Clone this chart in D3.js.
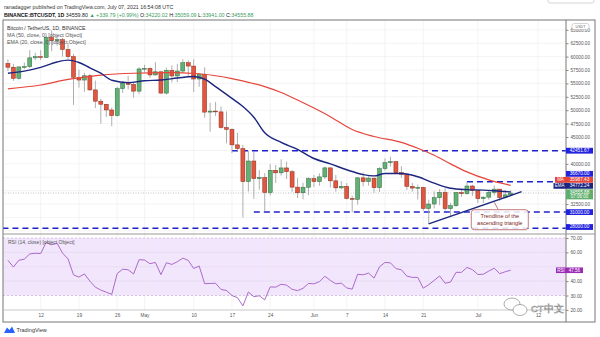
<!DOCTYPE html>
<html><head><meta charset="utf-8">
<script src="https://cdnjs.cloudflare.com/ajax/libs/d3/7.8.5/d3.min.js"></script>
<style>body{margin:0;background:#fff}svg{display:block;font-family:"Liberation Sans",Arial,sans-serif}</style>
</head><body><svg id="c" width="600" height="337"></svg>
<script>
// ---------- DATA ----------
const firstDay = "2021-04-06";
const opens  = [58730,58020,55950,58080,58140,59770,59980,59830,63580,62960,63160,61330,60000,56150,55630,56430,53790,51690,51120,50050,49000,54020,55030,54820,53560,57700,57800,56580,57170,53200,57440,56390,57310,58860,58240,55820,56670,49650,49840,49690,46760,46430,43540,42850,36690,40530,37250,37450,34660,38800,38320,39240,38530,35660,34610,35640,37250,36690,37570,39250,36830,35520,35800,33550,33380,37390,36690,37340,35550,39100,40220,40410,38350,38050,35790,35480,35600,31680,32510,33680,34660,31640,32190,34650,34430,35870,35040,33500,33790,34670,35290,33690,34220];
const highs  = [59490,58650,58150,58900,61220,60700,61200,63770,64850,63800,63520,62570,60500,57530,57000,56750,55520,52130,51170,50500,54360,55460,56430,55200,58000,58450,57950,58980,57200,57940,58360,58650,59500,59300,59500,56870,58000,51370,51570,50700,49800,46640,45800,43550,42450,42200,38830,38270,39920,39790,40840,40410,38860,37340,36490,37500,37900,38230,39480,39290,37920,36790,36400,34070,37530,38400,37690,37440,39390,41000,41330,40530,39560,38200,36460,36140,35750,33300,34880,35300,35500,32730,34750,35300,36600,36100,35040,33940,34950,35950,35290,35120,35059];
const lows   = [57330,55470,55700,57700,57870,59300,59370,59800,61000,62020,60000,59580,51000,54220,53430,53620,50400,47500,48750,47000,48800,53220,53890,52330,53010,57050,56040,56480,53000,52900,55200,55240,56980,56240,53400,54370,48600,46000,48900,46560,43830,42000,42250,30000,34850,33490,35200,31110,34100,36420,37800,37170,34780,33630,33380,34150,35670,35920,37170,35600,34800,35260,33340,31000,32400,35780,35940,34600,34760,38730,39510,38120,37400,35130,34820,33350,31250,28800,31690,32300,31280,30150,32000,33860,34230,34000,32710,32700,33330,34100,33130,33520,33941];
const closes = [58020,55950,58080,58140,59770,59980,59830,63580,62960,63160,61330,60000,56150,55630,56430,53790,51690,51120,50050,49000,54020,55030,54820,53560,57700,57800,56580,57170,53200,57440,56390,57310,58860,58240,55820,56670,49650,49840,49690,46760,46430,43540,42850,36690,40530,37250,37450,34660,38800,38320,39240,38530,35660,34610,35640,37250,36690,37570,39250,36830,35520,35800,33550,33380,37390,36690,37340,35550,39100,40220,40410,38350,38050,35790,35480,35600,31680,32510,33680,34660,31640,32190,34650,34430,35870,35040,33500,33790,34670,35290,33690,34220,34555.88];
const rsiValues = [54.5,49.8,54.5,55.3,58.9,59.4,59.2,67.0,65.3,66.3,59.5,55.5,44.4,42.8,45.0,40.0,35.8,33.8,32.3,30.8,45.3,48.3,47.9,45.0,54.9,54.7,52.1,53.0,44.5,52.8,51.6,53.5,56.0,54.4,48.8,50.5,38.2,38.4,38.5,34.2,33.5,30.0,28.5,22.8,32.4,29.2,29.8,27.0,36.0,35.8,37.8,37.2,34.3,33.4,35.0,38.4,38.1,39.6,43.4,40.5,38.1,38.6,35.3,34.4,44.8,44.4,45.6,42.1,50.0,53.0,52.7,48.7,47.9,43.5,42.6,42.6,35.1,37.5,40.5,43.6,38.5,39.4,46.1,46.1,49.5,48.0,44.6,44.8,47.0,49.0,45.2,46.5,47.56];
const maDates  = ["2021-04-06","2021-04-12","2021-04-17","2021-04-23","2021-04-29","2021-05-05","2021-05-11","2021-05-17","2021-05-20","2021-05-23","2021-05-26","2021-05-29","2021-06-01","2021-06-04","2021-06-08","2021-06-12","2021-06-17","2021-06-20","2021-06-23","2021-06-26","2021-06-29","2021-07-03","2021-07-07"];
const maValues = [54000,54700,55750,56550,56900,57000,56800,55900,55200,54400,53300,51900,50400,48800,46400,45100,44000,42900,41600,40000,38500,37000,35987.43];
const emaDates  = ["2021-04-06","2021-04-09","2021-04-12","2021-04-15","2021-04-17","2021-04-19","2021-04-21","2021-04-23","2021-04-25","2021-04-28","2021-05-01","2021-05-04","2021-05-07","2021-05-10","2021-05-12","2021-05-14","2021-05-17","2021-05-19","2021-05-21","2021-05-23","2021-05-26","2021-05-29","2021-06-01","2021-06-04","2021-06-07","2021-06-10","2021-06-12","2021-06-14","2021-06-17","2021-06-20","2021-06-23","2021-06-26","2021-06-29","2021-07-02","2021-07-05","2021-07-07"];
const emaValues = [56900,57300,58000,59000,59350,58900,57900,56900,55600,55150,55500,55650,56000,56300,55800,54400,52200,50700,48700,45800,44000,42700,41000,40000,38900,38000,37750,38200,38200,37600,36400,35450,35200,35100,34900,34772.24];
const levelValues = [42451.67, 36670.00, 31000.00, 28000.00];
const levelStarts = ["2021-05-17","2021-06-29","2021-05-21","2021-04-05"];
const trendDates  = ["2021-06-22","2021-07-09"];
const trendPrices = [28800, 34800];
const priceTicks = [27500,30000,32500,35000,37500,40000,42500,45000,47500,50000,52500,55000,57500,60000,62500,65000];
const rsiTicks = [20,30,40,50,60,70];
const timeTickDates = ["2021-04-12","2021-04-19","2021-04-26","2021-05-01","2021-05-10","2021-05-17","2021-05-24","2021-06-01","2021-06-07","2021-06-14","2021-06-21","2021-07-01","2021-07-12"];
const timeTickLabels = ["12","19","26","May","10","17","24","Jun","7","14","21","Jul","12"];
const lastPrice = 34555.88, maLast = 35987.43, emaLast = 34772.24, rsiLast = 47.56;

// ---------- LAYOUT ----------
const L=3, R=566, FR=595, T=20, MB=234, RB=310, B=322;
const P = d => new Date(d+"T00:00:00Z");
const svg = d3.select("#c");
const x = d3.scaleUtc().domain([P("2021-04-12"), P("2021-07-12")]).range([40.7, 538]);
const y = d3.scaleLinear().domain([28000, 65000]).range([228.2, 29.8]);
const ry = d3.scaleLinear().domain([30, 70]).range([295.5, 238]);
const day0 = P(firstDay);
const candles = closes.map((c,i)=>({date:d3.utcDay.offset(day0,i),o:opens[i],h:highs[i],l:lows[i],c}));

const defs = svg.append("defs");
defs.append("clipPath").attr("id","mainClip").append("rect").attr("x",L).attr("y",T).attr("width",R-L).attr("height",MB-T);
defs.append("clipPath").attr("id","rsiClip").append("rect").attr("x",L).attr("y",MB).attr("width",R-L).attr("height",RB-MB);

// header
svg.append("text").attr("x",4).attr("y",8.5).attr("font-size",5.3).attr("fill","#333")
  .text("ranadagger published on TradingView.com, July 07, 2021 16:54:08 UTC");
const h2 = svg.append("text").attr("x",4).attr("y",16.5).attr("font-size",5.3).attr("fill","#222");
const G="#3b9c5a";
[["BINANCE:BTCUSDT, 1D ","#111","bold"],["34559.80 ","#222"],["▲ +339.79 (+0.99%) ",G],["O:","#222"],["34220.02 ",G],["H:","#222"],["35059.09 ",G],["L:","#222"],["33941.00 ",G],["C:","#222"],["34555.88",G]]
 .forEach(s=>h2.append("tspan").text(s[0]).attr("fill",s[1]).attr("font-weight",s[2]||"normal"));
svg.append("rect").attr("x",548).attr("y",-6).attr("width",46).attr("height",9).attr("rx",2).attr("fill","none").attr("stroke","#bbb").attr("stroke-width",0.6);

// RSI background band
svg.append("rect").attr("x",L).attr("y",ry(70)).attr("width",R-L).attr("height",ry(30)-ry(70)).attr("fill","#f2e6fd");

// grids
const grid = svg.append("g").attr("stroke","#ececec").attr("stroke-width",0.6);
timeTickDates.forEach(d=>{ grid.append("line").attr("x1",x(P(d))).attr("x2",x(P(d))).attr("y1",T).attr("y2",RB); });
priceTicks.forEach(p=>{ if(y(p)>T && y(p)<MB) grid.append("line").attr("x1",L).attr("x2",R).attr("y1",y(p)).attr("y2",y(p)); });
[40,50,60].forEach(v=>grid.append("line").attr("x1",L).attr("x2",R).attr("y1",ry(v)).attr("y2",ry(v)).attr("stroke","#e2d6ef"));
[30,70].forEach(v=>svg.append("line").attr("x1",L).attr("x2",R).attr("y1",ry(v)).attr("y2",ry(v)).attr("stroke","#b9a9c9").attr("stroke-width",0.6).attr("stroke-dasharray","2,2"));

// main pane content
const main = svg.append("g").attr("clip-path","url(#mainClip)");
main.append("line").attr("x1",L).attr("x2",R).attr("y1",y(lastPrice)).attr("y2",y(lastPrice)).attr("stroke","#999").attr("stroke-width",0.6).attr("stroke-dasharray","1,1.5");
levelValues.forEach((v,i)=>{
  main.append("line").attr("x1",x(P(levelStarts[i]))).attr("x2",R).attr("y1",y(v)).attr("y2",y(v))
    .attr("stroke","#1f22c8").attr("stroke-width",1.5).attr("stroke-dasharray","6,4");
});
const bw = 4;
const cg = main.append("g");
cg.selectAll("line.w").data(candles).join("line").attr("class","w")
  .attr("x1",d=>x(d.date)).attr("x2",d=>x(d.date)).attr("y1",d=>y(d.h)).attr("y2",d=>y(d.l))
  .attr("stroke","#9a9a9a").attr("stroke-width",0.8);
cg.selectAll("rect").data(candles).join("rect")
  .attr("x",d=>x(d.date)-bw/2).attr("width",bw)
  .attr("y",d=>y(Math.max(d.o,d.c))).attr("height",d=>Math.max(0.8,Math.abs(y(d.o)-y(d.c))))
  .attr("fill",d=>d.c>=d.o?"#62b075":"#e0563f")
  .attr("stroke",d=>d.c>=d.o?"#2f6a3e":"#8c2c1c").attr("stroke-width",0.5);
const lineGen = d3.line().x(d=>x(d[0])).y(d=>y(d[1])).curve(d3.curveMonotoneX);
main.append("path").attr("d",lineGen(maDates.map((d,i)=>[P(d),maValues[i]]))).attr("fill","none").attr("stroke","#e5453a").attr("stroke-width",1.2);
main.append("path").attr("d",lineGen(emaDates.map((d,i)=>[P(d),emaValues[i]]))).attr("fill","none").attr("stroke","#1b2580").attr("stroke-width",1.4);
main.append("line").attr("x1",x(P(trendDates[0]))).attr("y1",y(trendPrices[0])).attr("x2",x(P(trendDates[1]))).attr("y2",y(trendPrices[1]))
  .attr("stroke","#1b2580").attr("stroke-width",1.3);
// annotation
const aDate = P("2021-07-04");
const aPrice = trendPrices[0] + (trendPrices[1]-trendPrices[0])*((aDate-P(trendDates[0]))/(P(trendDates[1])-P(trendDates[0])));
const ax = x(aDate), ay = y(aPrice);
const bx = ax-23, by = ay+8.5, bwid = 57, bh = 20;
svg.append("line").attr("x1",ax+4).attr("y1",by).attr("x2",ax).attr("y2",ay+1).attr("stroke","#b45a5a").attr("stroke-width",0.8);
svg.append("rect").attr("x",bx).attr("y",by).attr("width",bwid).attr("height",bh).attr("rx",3).attr("fill","#fff").attr("fill-opacity",0.85).attr("stroke","#b45a5a").attr("stroke-width",0.8);
["Trendline of the","ascending triangle"].forEach((t,i)=>svg.append("text").attr("x",bx+bwid/2).attr("y",by+8+i*7).attr("text-anchor","middle").attr("font-size",5.6).attr("fill","#7a2222").text(t));

// legend
[["Bitcoin / TetherUS, 1D, BINANCE","#333"],["MA (50, close, 0) [object Object]","#555"],["EMA (20, close, 0) [object Object]","#555"]]
 .forEach((s,i)=>svg.append("text").attr("x",7).attr("y",30+i*7.2).attr("font-size",5.3).attr("fill",s[1]).text(s[0]));

// RSI line
const rsiLine = d3.line().x((d,i)=>x(candles[i].date)).y(d=>ry(d));
svg.append("g").attr("clip-path","url(#rsiClip)").append("path").attr("d",rsiLine(rsiValues)).attr("fill","none").attr("stroke","#a35bc2").attr("stroke-width",0.9);
svg.append("text").attr("x",8).attr("y",244).attr("font-size",5).attr("fill","#555").text("RSI (14, close) [object Object]");

// frame & separators
svg.append("rect").attr("x",L).attr("y",T).attr("width",FR-L).attr("height",B-T).attr("fill","none").attr("stroke","#777").attr("stroke-width",1);
svg.append("line").attr("x1",R).attr("x2",R).attr("y1",T).attr("y2",B).attr("stroke","#777").attr("stroke-width",1);
svg.append("line").attr("x1",L).attr("x2",FR).attr("y1",MB).attr("y2",MB).attr("stroke","#999").attr("stroke-width",1);
svg.append("line").attr("x1",L).attr("x2",R).attr("y1",RB).attr("y2",RB).attr("stroke","#bbb").attr("stroke-width",0.8);

// price-label positions (stacked to avoid overlap)
const fmt = d3.format(".2f");
const lpTop = y(lastPrice)-3.7;
const cEma = Math.min(y(emaLast), lpTop-3.5);
const cMa = Math.min(y(maLast), cEma-6);
const c36 = Math.min(y(levelValues[1]), cMa-6);
const tagCenters = [lpTop+3, lpTop+7, cEma, cMa, c36, y(levelValues[0]), y(levelValues[2]), y(levelValues[3])-1.2];

// axes
function styleAxis(g){ g.select(".domain").remove(); g.selectAll("text").attr("font-size",4.7).attr("fill","#555").attr("font-family","Liberation Sans, Arial"); g.selectAll("line").attr("stroke","#888"); }
const visTicks = priceTicks.filter(p=>y(p)>T-2 && y(p)<MB-2 && tagCenters.every(c=>Math.abs(c-y(p))>5.5));
svg.append("g").attr("transform",`translate(${R},0)`).call(d3.axisRight(y).tickValues(visTicks).tickSize(2.5).tickPadding(2).tickFormat(fmt)).call(styleAxis);
svg.append("g").attr("transform",`translate(${R},0)`).call(d3.axisRight(ry).tickValues(rsiTicks.filter(v=>Math.abs(ry(v)-ry(rsiLast))>5.5)).tickSize(2.5).tickPadding(2).tickFormat(fmt)).call(styleAxis);
svg.append("g").attr("transform",`translate(0,${RB})`).call(d3.axisBottom(x).tickValues(timeTickDates.map(P)).tickSize(0).tickPadding(4).tickFormat((d,i)=>timeTickLabels[i])).call(styleAxis);

// USDT badge
svg.append("rect").attr("x",572).attr("y",23.5).attr("width",17).attr("height",6).attr("rx",2).attr("fill","#fff").attr("stroke","#aaa").attr("stroke-width",0.5);
svg.append("text").attr("x",580.5).attr("y",27.8).attr("text-anchor","middle").attr("font-size",3.6).attr("fill","#666").text("USDT");

function tag(cy, val, color, tagText, tagW, twoLine){
  const h = twoLine?10:5.8, top = twoLine? cy-3.7 : cy-h/2;
  svg.append("rect").attr("x",R).attr("y",top).attr("width",27).attr("height",h).attr("fill",color);
  svg.append("text").attr("x",R+13.5).attr("y",top+4.3).attr("text-anchor","middle").attr("font-size",4.7).attr("fill","#fff").text(val);
  if(twoLine) svg.append("text").attr("x",R+13.5).attr("y",top+9).attr("text-anchor","middle").attr("font-size",4.5).attr("fill","#fff").text("07:06:00");
  if(tagText){
    svg.append("rect").attr("x",R-tagW).attr("y",top).attr("width",tagW).attr("height",h).attr("fill",color);
    svg.append("text").attr("x",R-tagW/2).attr("y",top+4.3).attr("text-anchor","middle").attr("font-size",4.5).attr("fill","#fff").text(tagText);
  }
}
const BLUE="#2222dd";
tag(y(lastPrice), fmt(lastPrice), "#5fae6c", null, 0, true);
tag(cEma, fmt(emaLast), "#1b2580", "EMA", 12.5);
tag(cMa, fmt(maLast), "#e5453a", "MA", 11);
tag(c36, fmt(levelValues[1]), BLUE);
tag(y(levelValues[0]), fmt(levelValues[0]), BLUE);
tag(y(levelValues[2]), fmt(levelValues[2]), BLUE);
tag(y(levelValues[3])-1.2, fmt(levelValues[3]), BLUE);
// RSI tag
svg.append("rect").attr("x",R-10).attr("y",ry(rsiLast)-2.8).attr("width",27).attr("height",5.6).attr("fill","#9b2bb3");
svg.append("text").attr("x",R-5).attr("y",ry(rsiLast)+1.6).attr("text-anchor","middle").attr("font-size",4.5).attr("fill","#fff").text("RSI");
svg.append("text").attr("x",R+8.5).attr("y",ry(rsiLast)+1.6).attr("text-anchor","middle").attr("font-size",4.5).attr("fill","#fff").text(fmt(rsiLast));

// watermark
const wm = svg.append("g").attr("fill","#fff").attr("stroke","#8a8a8a").attr("stroke-width",0.7);
wm.append("ellipse").attr("cx",512).attr("cy",304).attr("rx",8).attr("ry",6);
wm.append("ellipse").attr("cx",520).attr("cy",310).attr("rx",7).attr("ry",5.5);
svg.append("text").attr("x",531).attr("y",311.5).attr("font-size",9.5).attr("fill","#fff").attr("stroke","#8a8a8a").attr("stroke-width",0.55).text("CT中文");

// TradingView logo
svg.append("path").attr("d","M4,333 L7,327.5 L9.5,330 L12,326.5 L15,333 Z").attr("fill","#2962ff");
svg.append("text").attr("x",16.5).attr("y",331.5).attr("font-size",5.5).attr("fill","#333").text("TradingView");
</script></body></html>
